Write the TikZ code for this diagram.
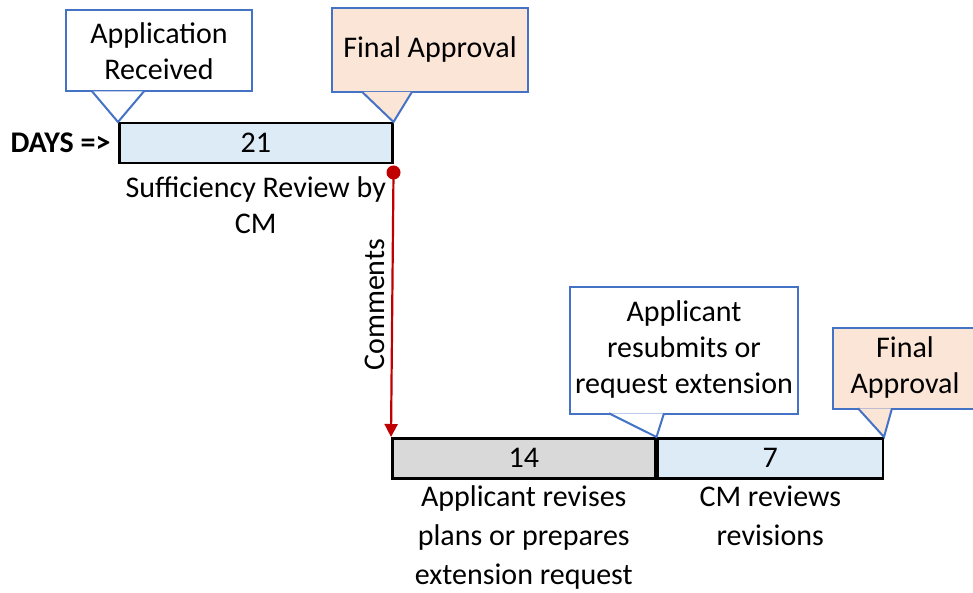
\documentclass[tikz,border=0pt]{standalone}
\usepackage{fontspec}
\setmainfont{Carlito}
\usetikzlibrary{arrows.meta, positioning}
\definecolor{noteblue}{HTML}{4472C4}
\definecolor{daysblue}{HTML}{DDEBF7}
\definecolor{daysgrey}{HTML}{D9D9D9}
\definecolor{approvalpeach}{HTML}{FBE5D6}
\definecolor{commentred}{HTML}{C00000}
\tikzset{
  daybar/.style={draw=black, line width=2.5pt, minimum height=40pt, inner sep=0pt, anchor=north west},
  notebox/.style={draw=noteblue, line width=2pt, fill=white, align=center, inner sep=2pt},
  approvalbox/.style={notebox, fill=approvalpeach},
  notetip/.style={draw=noteblue, line width=2pt},
  steplabel/.style={align=center},
  commentarrow/.style={draw=commentred, line width=2.2pt, -{Triangle[length=13pt, width=13pt]}}
}

\begin{document}
\begin{tikzpicture}[x=1pt, y=-1pt, font=\fontsize{30}{36}\selectfont]
\useasboundingbox (0,0) rectangle (973,593);
% the day bars
\node[daybar, fill=daysblue, minimum width=273pt] (bar21) at (118,122) {21};
\node[daybar, fill=daysgrey, minimum width=263pt] (bar14) at (391,437) {14};
\node[daybar, fill=daysblue, minimum width=225pt] (bar7) at (bar14.north east) {7};
\node[left=4pt of bar21, font=\fontsize{30}{36}\selectfont\bfseries] (days) {DAYS =>};
% what happens in each step
\node[steplabel, below=9pt of bar21] (suff) {Sufficiency Review by\\CM};
\node[steplabel, below=3pt of bar14, font=\fontsize{30}{39}\selectfont] (revise) {Applicant revises\\plans or prepares\\extension request};
\node[steplabel, below=3pt of bar7, font=\fontsize{30}{39}\selectfont] (review) {CM reviews\\revisions};
% callouts
\node[notebox, minimum width=186pt, minimum height=81pt] (received) at (159,51) {Application\\Received};
\node[approvalbox, minimum width=196pt, minimum height=84pt] (approval1) at (430,50) {Final Approval};
\node[notebox, minimum width=228pt, minimum height=127pt] (resubmit) at (684,350) {Applicant\\resubmits or\\request extension};
\node[approvalbox, minimum width=144pt, minimum height=81pt] (approval2) at (905,368) {Final\\Approval};
\draw[notetip, fill=white] ([xshift=27pt,yshift=1.2pt]received.south west) -- (bar21.north west) -- ([xshift=79pt,yshift=1.2pt]received.south west);
\draw[notetip, fill=approvalpeach] ([xshift=31pt,yshift=1.2pt]approval1.south west) -- (bar21.north east) -- ([xshift=81pt,yshift=1.2pt]approval1.south west);
\draw[notetip, fill=white] ([xshift=40pt,yshift=1.2pt]resubmit.south west) -- (bar7.north west) -- ([xshift=95pt,yshift=1.2pt]resubmit.south west);
\draw[notetip, fill=approvalpeach] ([xshift=26pt,yshift=1.2pt]approval2.south west) -- (bar7.north east) -- ([xshift=60pt,yshift=1.2pt]approval2.south west);
% comments go back to the applicant
\node[circle, fill=commentred, inner sep=0pt, minimum size=14pt] (dot) at ([yshift=-8pt]bar21.south east) {};
\draw[commentarrow] (dot.center) -- (bar14.north west) node[midway, rotate=90, anchor=south, inner sep=6pt] (comments) {Comments};
\end{tikzpicture}
\end{document}
